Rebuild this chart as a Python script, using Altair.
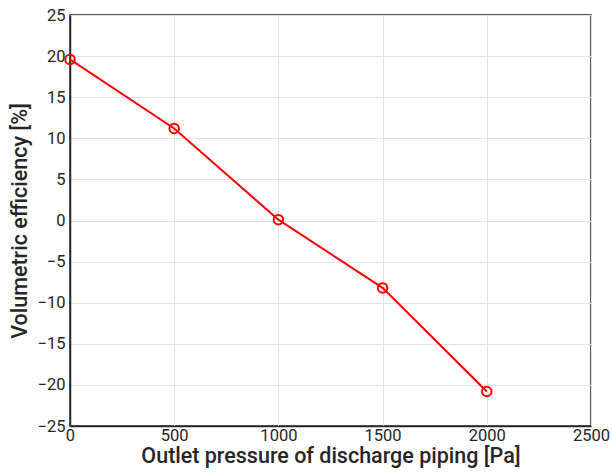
import altair as alt
import pandas as pd

pressure = [0, 500, 1000, 1500, 2000]
efficiency = [19.6, 11.2, 0.1, -8.2, -20.8]

df = pd.DataFrame({"p": pressure, "eff": efficiency})

FONT = "Roboto"
DARK = "#262626"

x = alt.X("p:Q", title="Outlet pressure of discharge piping [Pa]",
          scale=alt.Scale(domain=[0, 2500], nice=False),
          axis=alt.Axis(values=[0, 500, 1000, 1500, 2000, 2500], format="d", labelFlush=False))
y = alt.Y("eff:Q", title="Volumetric efficiency [%]",
          scale=alt.Scale(domain=[-25, 25], nice=False),
          axis=alt.Axis(values=list(range(-25, 26, 5)), format="d", labelFlush=False))

line = alt.Chart(df).mark_line(color="#ff0000", strokeWidth=2).encode(x=x, y=y)
pts = alt.Chart(df).mark_point(shape="circle", filled=False, color="#ff0000",
                               size=90, strokeWidth=2, opacity=1).encode(x=x, y=y)

chart = (line + pts).properties(
    width=521, height=411,
    autosize=alt.AutoSizeParams(type="none"),
    padding={"left": 70, "top": 15, "right": 21, "bottom": 49},
    background="white",
).configure_view(stroke=DARK, strokeWidth=1.5).configure_axis(
    labelFont=FONT, titleFont=FONT, labelFontSize=16.5, titleFontSize=21.5,
    labelColor=DARK, titleColor=DARK, titleFontWeight=500,
    domainColor=DARK, domainWidth=1.5, tickColor=DARK, ticks=False,
    gridColor="#e3e3e3", gridWidth=1,
).configure_axisX(titlePadding=2, labelPadding=1).configure_axisY(titlePadding=6, labelPadding=5)

chart.save("out.html", embed_options={"renderer": "svg", "actions": False})
